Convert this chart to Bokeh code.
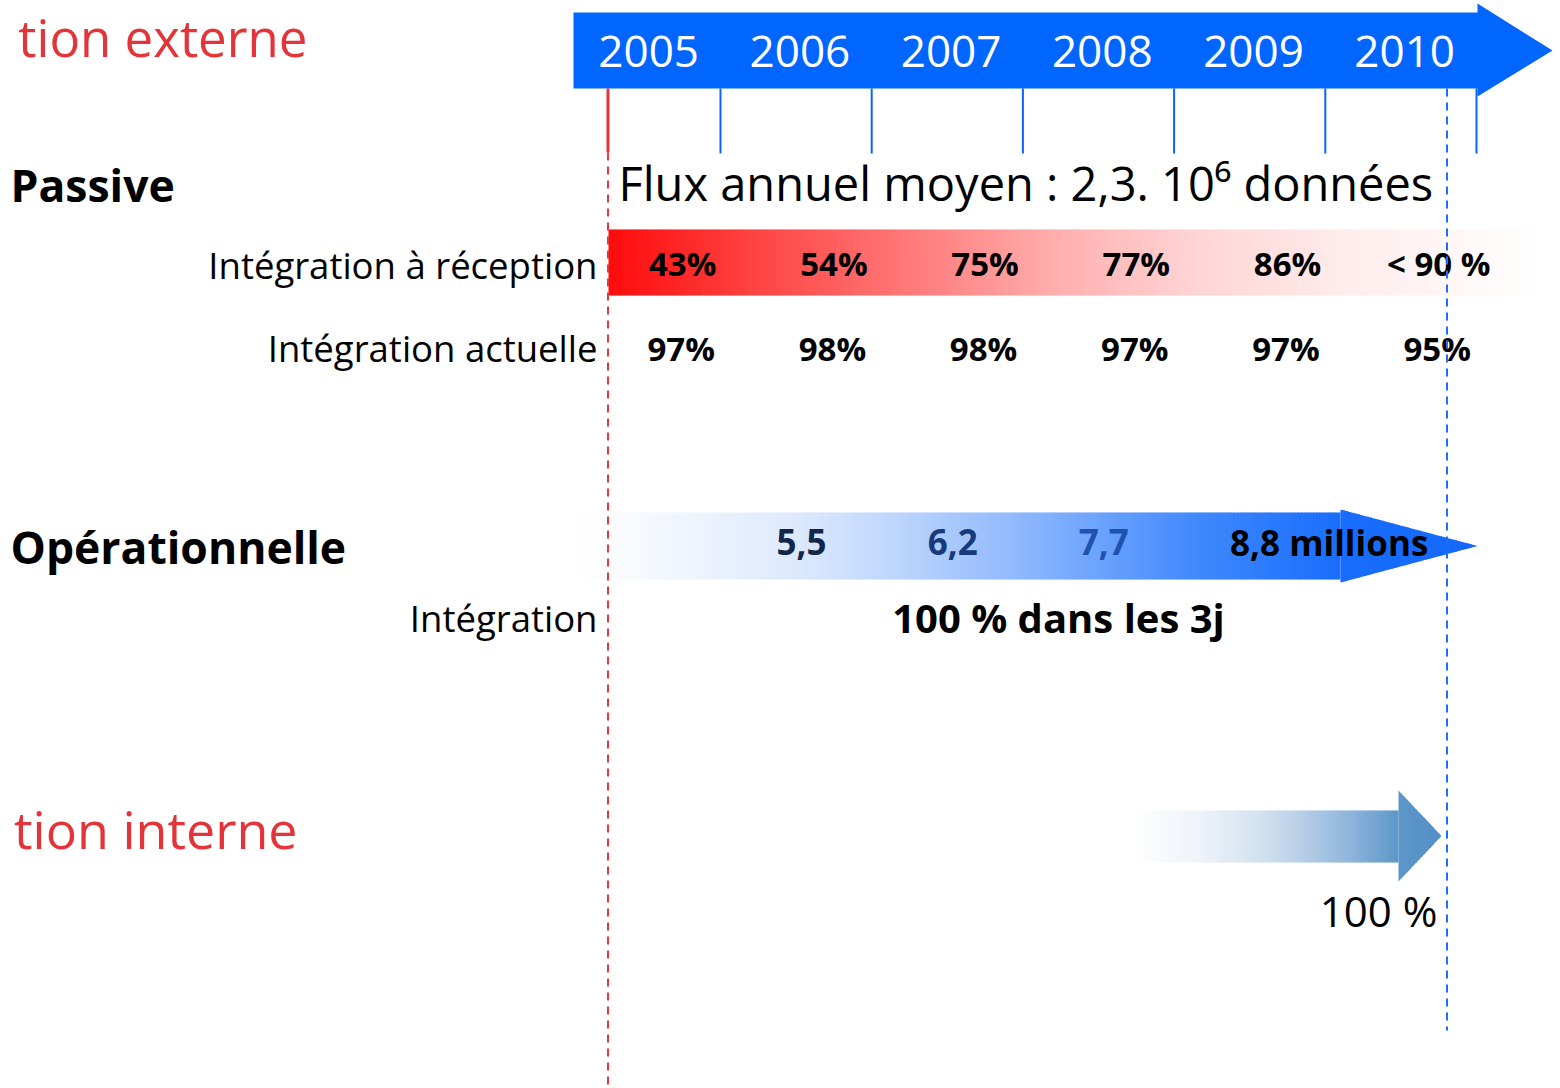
import numpy as np
from bokeh.plotting import figure
from bokeh.models import Range1d
from bokeh.core.properties import value
from bokeh.embed import file_html
from bokeh.resources import INLINE

# ---------------- data ----------------
years = [2005, 2006, 2007, 2008, 2009, 2010]
year_labels = ["2005", "2006", "2007", "2008", "2009", "2010"]
reception = ["43%", "54%", "75%", "77%", "86%", "< 90 %"]
actuelle = ["97%", "98%", "98%", "97%", "97%", "95%"]
ops_years = [2006, 2007, 2008, 2009]
ops_values = ["5,5", "6,2", "7,7", "8,8 millions"]
row_labels = ["Intégration à réception", "Intégration actuelle", "Intégration"]
flux_text = "Flux annuel moyen : 2,3. 10\u2076 données"
ops_text = "100 % dans les 3j"
interne_text = "100 %"

# ---------------- layout ----------------
FONT = value("Open Sans")
PX0, PPY = 720.0, 151.2          # pixel of 2006, pixels per year
def yr(px):
    return 2006 + (px - PX0) / PPY

def base(y, size):
    # correct the rendered baseline so glyphs sit on pixel row y
    return y - 0.41 * size

W, H = 1560, 1088
p = figure(width=W, height=H, output_backend="svg", toolbar_location=None,
           x_range=Range1d(yr(0), yr(W)), y_range=Range1d(H, 0),
           min_border=0, outline_line_color=None, background_fill_color="white")
p.axis.visible = False
p.grid.visible = False

def hex2rgb(h):
    h = h.lstrip("#")
    return tuple(int(h[i:i + 2], 16) for i in (0, 2, 4))

def grad(stops, x):
    xs = [s[0] for s in stops]
    cols = [hex2rgb(s[1]) for s in stops]
    r = np.interp(x, xs, [c[0] for c in cols])
    g = np.interp(x, xs, [c[1] for c in cols])
    b = np.interp(x, xs, [c[2] for c in cols])
    return ["#%02x%02x%02x" % (int(a), int(bb), int(c)) for a, bb, c in zip(r, g, b)]

# ---- red gradient bar (Intégration à réception) ----
red_stops = [(yr(608), "#ff0c0c"), (yr(760), "#ff4646"), (yr(910), "#ff7a7a"),
             (yr(1060), "#ffb0b0"), (yr(1200), "#ffd6d6"), (yr(1350), "#ffeded"),
             (yr(1450), "#fff7f7"), (yr(1537), "#ffffff")]
x0, x1 = yr(608), yr(1537)
edges = np.linspace(x0, x1, 311)
mids = (edges[:-1] + edges[1:]) / 2
eps = 0.006
p.quad(left=edges[:-1], right=np.minimum(edges[1:] + eps, x1), top=229, bottom=295,
       fill_color=grad(red_stops, mids), line_color=None)

# ---- gradient arrows ----
def grad_arrow(xl, xbase, xtip, btop, bbot, htop, hbot, stops, nb, nh):
    xs_list, ys_list, cols = [], [], []
    yc = (htop + hbot) / 2.0
    be = np.linspace(xl, xbase, nb + 1)
    for a, b in zip(be[:-1], be[1:]):
        b2 = min(b + eps, xbase)
        xs_list.append([a, b2, b2, a]); ys_list.append([btop, btop, bbot, bbot])
        cols.append((a + b) / 2)
    he = np.linspace(xbase, xtip, nh + 1)
    def tb(x):
        f = (x - xbase) / (xtip - xbase)
        return htop + (yc - htop) * f, hbot + (yc - hbot) * f
    for a, b in zip(he[:-1], he[1:]):
        b2 = min(b + eps, xtip)
        ta, ba = tb(a); t2, b2y = tb(b2)
        xs_list.append([a, b2, b2, a]); ys_list.append([ta, t2, b2y, ba])
        cols.append((a + b) / 2)
    p.patches(xs=xs_list, ys=ys_list, fill_color=grad(stops, np.array(cols)), line_color=None)

ops_stops = [(yr(580), "#ffffff"), (yr(700), "#eef4fe"), (yr(800), "#dce9fd"),
             (yr(900), "#bcd5fd"), (yr(1000), "#97bdfd"), (yr(1100), "#6ba3fd"),
             (yr(1200), "#4088fd"), (yr(1340), "#1a6efc"), (yr(1477), "#1468fc")]
grad_arrow(yr(580), yr(1340), yr(1477), 512, 579, 509, 582, ops_stops, 250, 45)

int_stops = [(yr(1133), "#ffffff"), (yr(1200), "#eef3f9"), (yr(1260), "#d3e2f1"),
             (yr(1300), "#b9d0e8"), (yr(1350), "#8eb5dc"), (yr(1398), "#5e97ca"),
             (yr(1441), "#5390c7")]
grad_arrow(yr(1133), yr(1398), yr(1441), 810, 862, 790, 881, int_stops, 90, 15)

# ---- top timeline arrow ----
xa, xh, xt = yr(573), yr(1477), yr(1552)
p.patch(x=[xa, xh, xh, xt, xh, xh, xa], y=[12, 12, 3, 50, 96, 88, 88],
        fill_color="#0066ff", line_color=None)
p.text(x=[y + 0.525 for y in years], y=[base(69, 44)] * len(years), text=year_labels,
       text_font=FONT, text_font_size="44px", text_color="white",
       text_align="center", text_baseline="alphabetic")

# year ticks (start of each year)
tick_years = [y + 1 for y in years]
p.segment(x0=tick_years, y0=[88] * 6, x1=tick_years, y1=[153] * 6,
          line_color="#0a64f5", line_width=2)

# ---------------- texts ----------------
p.text(x=[yr(307)], y=[base(57, 51)], text=["tion externe"], text_font=FONT,
       text_font_size="51px", text_color="#e3343a", text_align="right",
       text_baseline="alphabetic")
p.text(x=[yr(297)], y=[base(849, 52)], text=["tion interne"], text_font=FONT,
       text_font_size="52px", text_color="#e3343a", text_align="right",
       text_baseline="alphabetic")
p.text(x=[yr(10), yr(10)], y=[base(202, 44.5), base(564, 44.5)],
       text=["Passive", "Opérationnelle"], text_font=FONT,
       text_font_size="44.5px", text_font_style="bold", text_color="black",
       text_align="left", text_baseline="alphabetic")
p.text(x=[yr(597)] * 3, y=[base(279, 36.5), base(362, 36.5), base(632, 36.5)],
       text=row_labels, text_font=FONT,
       text_font_size="36.5px", text_color="black", text_align="right",
       text_baseline="alphabetic")
p.text(x=[yr(618)], y=[base(202, 47)], text=[flux_text], text_font=FONT,
       text_font_size="47px", text_color="black", text_align="left",
       text_baseline="alphabetic")

p.text(x=[y + 0.75 for y in years], y=[base(277, 33)] * 6, text=reception, text_font=FONT,
       text_font_size="33px", text_font_style="bold", text_color="black",
       text_align="center", text_baseline="alphabetic")
p.text(x=[y + 0.74 for y in years], y=[base(362, 33)] * 6, text=actuelle, text_font=FONT,
       text_font_size="33px", text_font_style="bold", text_color="black",
       text_align="center", text_baseline="alphabetic")
p.text(x=[y + 0.37 for y in ops_years], y=[base(556, 35)] * 4, text=ops_values,
       text_font=FONT, text_font_size="35px", text_font_style="bold",
       text_color=["#14254a", "#173a7c", "#1f52b0", "#000000"],
       text_align="left", text_baseline="alphabetic")
p.text(x=[yr(1058)], y=[base(633, 40)], text=[ops_text], text_font=FONT,
       text_font_size="40px", text_font_style="bold", text_color="black",
       text_align="center", text_baseline="alphabetic")
p.text(x=[yr(1437)], y=[base(927, 42)], text=[interne_text], text_font=FONT,
       text_font_size="42px", text_color="black", text_align="right",
       text_baseline="alphabetic")

# ---------------- marker lines ----------------
start = yr(607.5)
p.segment(x0=[start], y0=[88], x1=[start], y1=[152], line_color="#e3343a", line_width=3)
p.segment(x0=[start], y0=[152], x1=[start], y1=[1090], line_color="#e8383d",
          line_width=2, line_dash="8 6")
now = yr(1446.5)
p.segment(x0=[now], y0=[88], x1=[now], y1=[1030], line_color="#1a6dff",
          line_width=2, line_dash="8 6")

open("out.html", "w").write(file_html(p, INLINE))
